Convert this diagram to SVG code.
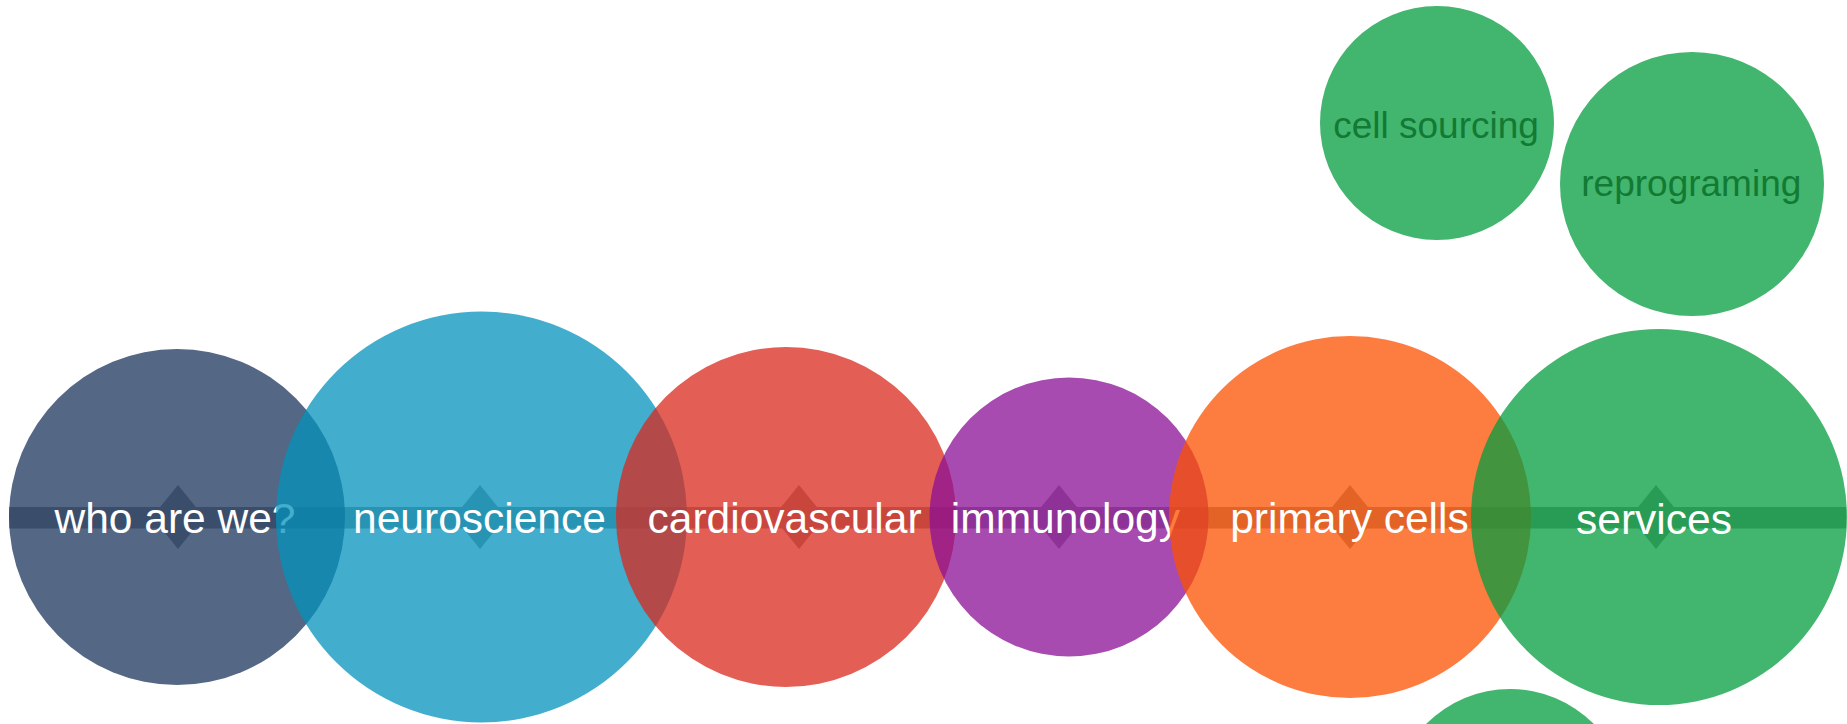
<svg xmlns="http://www.w3.org/2000/svg" width="1847" height="724" viewBox="0 0 1847 724">
<style>
.c{fill-opacity:0.75}
.dm{fill:#979b9b}
.lbl{font-family:"Liberation Sans",Arial,sans-serif;font-size:42.5px;fill:#fff;text-anchor:middle}
.sub{font-family:"Liberation Sans",Arial,sans-serif;font-size:37px;fill:#127a33;text-anchor:middle}
.green{fill:#039c3e}
</style>
<rect width="1847" height="724" fill="#fff"/>
<g id="connectors">
<rect x="9" y="507" width="1837" height="21.5" fill="#979b9b"/>
</g>
<g id="node-who">
<polygon class="dm" points="178,485 204,517 178,549 152,517"/>
<circle class="c" cx="177" cy="517" r="168" fill="#1b345c"/>
<text class="lbl" x="175" y="533">who are we?</text>
</g>
<g id="node-neuroscience">
<polygon class="dm" points="480,485 506,517 480,549 454,517"/>
<circle class="c" cx="481.5" cy="517" r="205.5" fill="#0392bb"/>
<text class="lbl" x="479.5" y="533">neuroscience</text>
</g>
<g id="node-cardiovascular">
<polygon class="dm" points="799,485 825,517 799,549 773,517"/>
<circle class="c" cx="786" cy="517" r="170" fill="#da2a1e"/>
<text class="lbl" x="784.6" y="533">cardiovascular</text>
</g>
<g id="node-immunology">
<polygon class="dm" points="1059,485 1085,517 1059,549 1033,517"/>
<circle class="c" cx="1069" cy="517" r="139.5" fill="#8b0f96"/>
<text class="lbl" x="1065.4" y="533">immunology</text>
</g>
<g id="node-primary-cells">
<polygon class="dm" points="1350,485 1376,517 1350,549 1324,517"/>
<circle class="c" cx="1350" cy="517" r="181" fill="#fc5000"/>
<text class="lbl" x="1349.5" y="533">primary cells</text>
</g>
<g id="node-services">
<polygon class="dm" points="1656,485 1682,517 1656,549 1630,517"/>
<circle class="c" cx="1659" cy="517" r="188" fill="#039c3e"/>
<text class="lbl" x="1654" y="534">services</text>
</g>
<g id="node-cell-sourcing">
<circle class="c green" cx="1437" cy="123" r="117"/>
<text class="sub" x="1436" y="137.5">cell sourcing</text>
</g>
<g id="node-reprograming">
<circle class="c green" cx="1692" cy="184" r="132"/>
<text class="sub" x="1691.3" y="196">reprograming</text>
</g>
<g id="node-bottom">
<circle class="c green" cx="1510" cy="807" r="118"/>
</g>
</svg>
